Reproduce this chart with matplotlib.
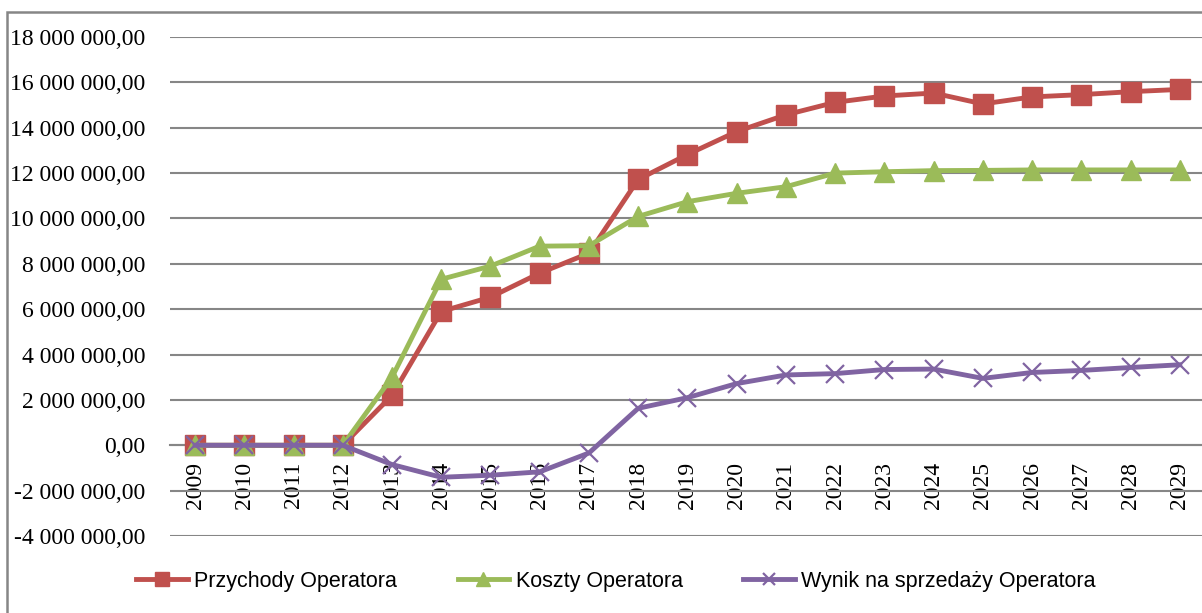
import matplotlib.pyplot as plt
from matplotlib.patches import Rectangle
from matplotlib.ticker import FuncFormatter, MultipleLocator

years = [str(y) for y in range(2009, 2030)]

przychody = [0, 0, 0, 0, 2.2e6, 5.9e6, 6.53e6, 7.59e6, 8.47e6, 11.72e6, 12.82e6,
             13.83e6, 14.57e6, 15.12e6, 15.40e6, 15.53e6, 15.05e6, 15.36e6, 15.46e6,
             15.59e6, 15.69e6]
koszty = [0, 0, 0, 0, 3.0e6, 7.32e6, 7.9e6, 8.78e6, 8.8e6, 10.09e6, 10.74e6,
          11.11e6, 11.40e6, 12.0e6, 12.06e6, 12.11e6, 12.12e6, 12.14e6, 12.14e6,
          12.14e6, 12.14e6]
wynik = [0, 0, 0, 0, -0.85e6, -1.41e6, -1.32e6, -1.17e6, -0.34e6, 1.63e6, 2.10e6,
         2.72e6, 3.10e6, 3.16e6, 3.34e6, 3.36e6, 2.95e6, 3.21e6, 3.30e6, 3.43e6,
         3.55e6]

RED = "#C0504D"
GREEN = "#9BBB59"
PURPLE = "#8064A2"
GRID = "#868686"

fig = plt.figure(figsize=(12.02, 6.13), dpi=100)
ax = fig.add_axes([0.1418, 0.1256, 0.8602, 0.8140])

x = list(range(len(years)))

ax.plot(x, przychody, color=RED, lw=3.5, marker="s", markersize=14,
        label="Przychody Operatora", zorder=3)
ax.plot(x, koszty, color=GREEN, lw=3.5, marker="^", markersize=15,
        label="Koszty Operatora", zorder=4)
ax.plot(x, wynik, color=PURPLE, lw=3.5, marker="x", markersize=13,
        markeredgewidth=1.6, label="Wynik na sprzedaży Operatora", zorder=5)

ax.set_xlim(-0.5, len(years) - 0.5)
ax.set_ylim(-4e6, 18e6)

# category axis crosses at zero; set before ticks since it resets them
for side in ("left", "right", "top"):
    ax.spines[side].set_visible(False)
ax.spines["bottom"].set_position(("data", 0))
ax.spines["bottom"].set_color(GRID)
ax.spines["bottom"].set_linewidth(1.5)


def pl_format(v, pos):
    s = f"{abs(v):,.2f}".replace(",", " ").replace(".", ",")
    return ("-" if v < 0 else "") + s


ax.yaxis.set_major_locator(MultipleLocator(2e6))
ax.yaxis.set_major_formatter(FuncFormatter(pl_format))
ax.grid(axis="y", color=GRID, lw=1.5)
ax.set_axisbelow(True)

ax.set_xticks(x)
ax.set_xticklabels(years, rotation=90, family="Liberation Serif", fontsize=17)
for lab in ax.get_yticklabels():
    lab.set_family("Liberation Serif")
    lab.set_fontsize(17)
ax.tick_params(axis="x", length=0, pad=12)
ax.tick_params(axis="y", length=0, pad=18)

leg = ax.legend(loc="center", bbox_to_anchor=(0.5125, 0.052),
                bbox_transform=fig.transFigure, ncol=3, frameon=False,
                prop={"family": "Liberation Sans", "size": 15.5},
                handlelength=2.4, handletextpad=0.3, columnspacing=2.8,
                markerscale=0.7)

# chart area frame
fig.patches.append(Rectangle((7 / 1202, -0.1), 2.0, (613 - 12) / 613 + 0.1,
                             transform=fig.transFigure, fill=False,
                             edgecolor=GRID, lw=1.8))

fig.savefig("out.png", dpi=100)
